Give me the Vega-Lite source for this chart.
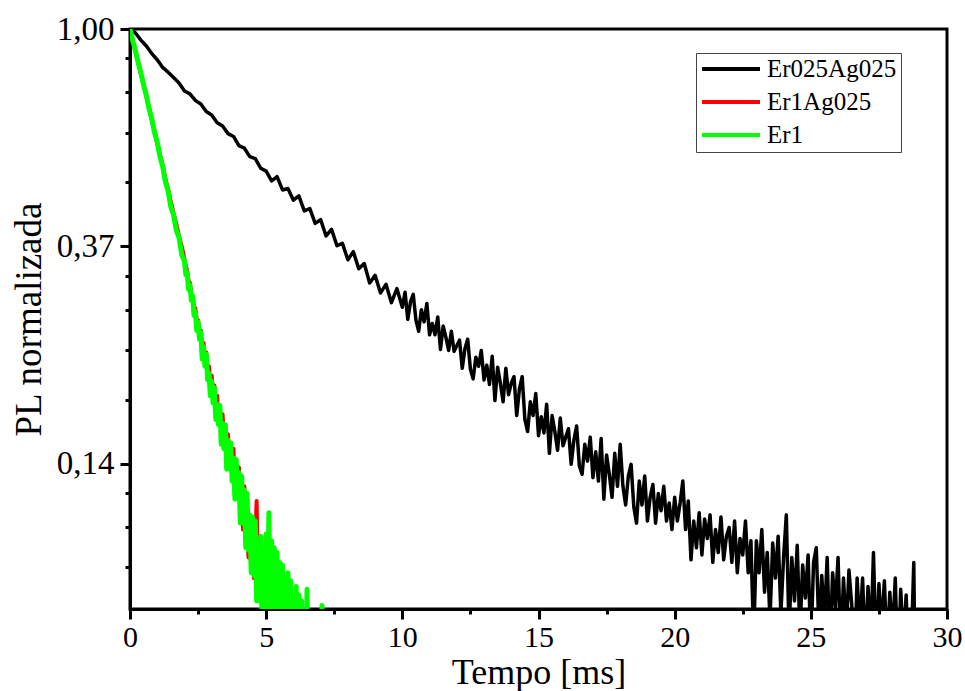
{
  "$schema": "https://vega.github.io/schema/vega-lite/v6.json",
  "width": 817,
  "height": 580,
  "autosize": {"type": "none"},
  "padding": {"left": 130, "top": 29, "right": 18, "bottom": 82},
  "background": "white",
  "config": {
    "view": {"stroke": "black", "strokeWidth": 3},
    "font": "Liberation Serif",
    "axis": {"labelFont": "Liberation Serif", "titleFont": "Liberation Serif"},
    "legend": {"labelFont": "Liberation Serif"}
  },
  "data": {"values": [
{"s":"Er025Ag025","t":0,"pl":1.000},{"s":"Er025Ag025","t":0.2,"pl":0.982},{"s":"Er025Ag025","t":0.4,"pl":0.950},{"s":"Er025Ag025","t":0.6,"pl":0.925},{"s":"Er025Ag025","t":0.8,"pl":0.893},{"s":"Er025Ag025","t":1.0,"pl":0.868},{"s":"Er025Ag025","t":1.2,"pl":0.838},{"s":"Er025Ag025","t":1.4,"pl":0.820},{"s":"Er025Ag025","t":1.6,"pl":0.800},{"s":"Er025Ag025","t":1.8,"pl":0.780},
{"s":"Er025Ag025","t":2.0,"pl":0.752},{"s":"Er025Ag025","t":2.2,"pl":0.742},{"s":"Er025Ag025","t":2.4,"pl":0.720},{"s":"Er025Ag025","t":2.6,"pl":0.708},{"s":"Er025Ag025","t":2.8,"pl":0.684},{"s":"Er025Ag025","t":3.0,"pl":0.673},{"s":"Er025Ag025","t":3.2,"pl":0.650},{"s":"Er025Ag025","t":3.4,"pl":0.640},{"s":"Er025Ag025","t":3.6,"pl":0.618},{"s":"Er025Ag025","t":3.8,"pl":0.610},
{"s":"Er025Ag025","t":4.0,"pl":0.585},{"s":"Er025Ag025","t":4.2,"pl":0.578},{"s":"Er025Ag025","t":4.4,"pl":0.556},{"s":"Er025Ag025","t":4.6,"pl":0.551},{"s":"Er025Ag025","t":4.8,"pl":0.527},{"s":"Er025Ag025","t":5.0,"pl":0.520},{"s":"Er025Ag025","t":5.2,"pl":0.497},{"s":"Er025Ag025","t":5.4,"pl":0.507},{"s":"Er025Ag025","t":5.6,"pl":0.477},{"s":"Er025Ag025","t":5.8,"pl":0.480},
{"s":"Er025Ag025","t":6.0,"pl":0.455},{"s":"Er025Ag025","t":6.2,"pl":0.464},{"s":"Er025Ag025","t":6.4,"pl":0.433},{"s":"Er025Ag025","t":6.6,"pl":0.438},{"s":"Er025Ag025","t":6.8,"pl":0.409},{"s":"Er025Ag025","t":7.0,"pl":0.416},{"s":"Er025Ag025","t":7.2,"pl":0.386},{"s":"Er025Ag025","t":7.4,"pl":0.398},{"s":"Er025Ag025","t":7.6,"pl":0.369},{"s":"Er025Ag025","t":7.8,"pl":0.373},
{"s":"Er025Ag025","t":8.0,"pl":0.346},{"s":"Er025Ag025","t":8.2,"pl":0.359},{"s":"Er025Ag025","t":8.4,"pl":0.332},{"s":"Er025Ag025","t":8.6,"pl":0.340},{"s":"Er025Ag025","t":8.8,"pl":0.311},{"s":"Er025Ag025","t":9.0,"pl":0.322},{"s":"Er025Ag025","t":9.2,"pl":0.297},{"s":"Er025Ag025","t":9.4,"pl":0.309},{"s":"Er025Ag025","t":9.6,"pl":0.284},{"s":"Er025Ag025","t":9.8,"pl":0.303},
{"s":"Er025Ag025","t":10.0,"pl":0.278},{"s":"Er025Ag025","t":10.1,"pl":0.298},{"s":"Er025Ag025","t":10.2,"pl":0.263},{"s":"Er025Ag025","t":10.3,"pl":0.285},{"s":"Er025Ag025","t":10.4,"pl":0.295},{"s":"Er025Ag025","t":10.5,"pl":0.262},{"s":"Er025Ag025","t":10.6,"pl":0.249},{"s":"Er025Ag025","t":10.7,"pl":0.275},{"s":"Er025Ag025","t":10.8,"pl":0.260},{"s":"Er025Ag025","t":10.9,"pl":0.283},
{"s":"Er025Ag025","t":11.0,"pl":0.245},{"s":"Er025Ag025","t":11.1,"pl":0.258},{"s":"Er025Ag025","t":11.2,"pl":0.245},{"s":"Er025Ag025","t":11.3,"pl":0.266},{"s":"Er025Ag025","t":11.4,"pl":0.229},{"s":"Er025Ag025","t":11.5,"pl":0.255},{"s":"Er025Ag025","t":11.6,"pl":0.242},{"s":"Er025Ag025","t":11.7,"pl":0.228},{"s":"Er025Ag025","t":11.8,"pl":0.249},{"s":"Er025Ag025","t":11.9,"pl":0.227},
{"s":"Er025Ag025","t":12.0,"pl":0.233},{"s":"Er025Ag025","t":12.1,"pl":0.239},{"s":"Er025Ag025","t":12.2,"pl":0.210},{"s":"Er025Ag025","t":12.3,"pl":0.230},{"s":"Er025Ag025","t":12.4,"pl":0.240},{"s":"Er025Ag025","t":12.5,"pl":0.209},{"s":"Er025Ag025","t":12.6,"pl":0.200},{"s":"Er025Ag025","t":12.7,"pl":0.221},{"s":"Er025Ag025","t":12.8,"pl":0.212},{"s":"Er025Ag025","t":12.9,"pl":0.228},
{"s":"Er025Ag025","t":13.0,"pl":0.199},{"s":"Er025Ag025","t":13.1,"pl":0.213},{"s":"Er025Ag025","t":13.2,"pl":0.195},{"s":"Er025Ag025","t":13.3,"pl":0.222},{"s":"Er025Ag025","t":13.4,"pl":0.181},{"s":"Er025Ag025","t":13.5,"pl":0.211},{"s":"Er025Ag025","t":13.6,"pl":0.196},{"s":"Er025Ag025","t":13.7,"pl":0.180},{"s":"Er025Ag025","t":13.8,"pl":0.210},{"s":"Er025Ag025","t":13.9,"pl":0.186},
{"s":"Er025Ag025","t":14.0,"pl":0.196},{"s":"Er025Ag025","t":14.1,"pl":0.202},{"s":"Er025Ag025","t":14.2,"pl":0.169},{"s":"Er025Ag025","t":14.3,"pl":0.191},{"s":"Er025Ag025","t":14.4,"pl":0.202},{"s":"Er025Ag025","t":14.5,"pl":0.166},{"s":"Er025Ag025","t":14.6,"pl":0.157},{"s":"Er025Ag025","t":14.7,"pl":0.180},{"s":"Er025Ag025","t":14.8,"pl":0.169},{"s":"Er025Ag025","t":14.9,"pl":0.187},
{"s":"Er025Ag025","t":15.0,"pl":0.154},{"s":"Er025Ag025","t":15.1,"pl":0.168},{"s":"Er025Ag025","t":15.2,"pl":0.156},{"s":"Er025Ag025","t":15.3,"pl":0.178},{"s":"Er025Ag025","t":15.4,"pl":0.142},{"s":"Er025Ag025","t":15.5,"pl":0.169},{"s":"Er025Ag025","t":15.6,"pl":0.157},{"s":"Er025Ag025","t":15.7,"pl":0.144},{"s":"Er025Ag025","t":15.8,"pl":0.167},{"s":"Er025Ag025","t":15.9,"pl":0.147},
{"s":"Er025Ag025","t":16.0,"pl":0.153},{"s":"Er025Ag025","t":16.1,"pl":0.159},{"s":"Er025Ag025","t":16.2,"pl":0.135},{"s":"Er025Ag025","t":16.3,"pl":0.151},{"s":"Er025Ag025","t":16.4,"pl":0.161},{"s":"Er025Ag025","t":16.5,"pl":0.134},{"s":"Er025Ag025","t":16.6,"pl":0.129},{"s":"Er025Ag025","t":16.7,"pl":0.148},{"s":"Er025Ag025","t":16.8,"pl":0.137},{"s":"Er025Ag025","t":16.9,"pl":0.153},
{"s":"Er025Ag025","t":17.0,"pl":0.127},{"s":"Er025Ag025","t":17.1,"pl":0.143},{"s":"Er025Ag025","t":17.2,"pl":0.125},{"s":"Er025Ag025","t":17.3,"pl":0.152},{"s":"Er025Ag025","t":17.4,"pl":0.115},{"s":"Er025Ag025","t":17.5,"pl":0.141},{"s":"Er025Ag025","t":17.6,"pl":0.129},{"s":"Er025Ag025","t":17.7,"pl":0.116},{"s":"Er025Ag025","t":17.8,"pl":0.142},{"s":"Er025Ag025","t":17.9,"pl":0.122},
{"s":"Er025Ag025","t":18.0,"pl":0.148},{"s":"Er025Ag025","t":18.1,"pl":0.122},{"s":"Er025Ag025","t":18.2,"pl":0.112},{"s":"Er025Ag025","t":18.3,"pl":0.128},{"s":"Er025Ag025","t":18.4,"pl":0.135},{"s":"Er025Ag025","t":18.5,"pl":0.111},{"s":"Er025Ag025","t":18.6,"pl":0.103},{"s":"Er025Ag025","t":18.7,"pl":0.125},{"s":"Er025Ag025","t":18.8,"pl":0.112},{"s":"Er025Ag025","t":18.9,"pl":0.128},
{"s":"Er025Ag025","t":19.0,"pl":0.104},{"s":"Er025Ag025","t":19.1,"pl":0.116},{"s":"Er025Ag025","t":19.2,"pl":0.123},{"s":"Er025Ag025","t":19.3,"pl":0.103},{"s":"Er025Ag025","t":19.4,"pl":0.118},{"s":"Er025Ag025","t":19.5,"pl":0.109},{"s":"Er025Ag025","t":19.6,"pl":0.122},{"s":"Er025Ag025","t":19.7,"pl":0.104},{"s":"Er025Ag025","t":19.8,"pl":0.113},{"s":"Er025Ag025","t":19.9,"pl":0.100},
{"s":"Er025Ag025","t":20.0,"pl":0.116},{"s":"Er025Ag025","t":20.1,"pl":0.104},{"s":"Er025Ag025","t":20.2,"pl":0.113},{"s":"Er025Ag025","t":20.3,"pl":0.125},{"s":"Er025Ag025","t":20.4,"pl":0.100},{"s":"Er025Ag025","t":20.5,"pl":0.114},{"s":"Er025Ag025","t":20.6,"pl":0.087},{"s":"Er025Ag025","t":20.7,"pl":0.104},{"s":"Er025Ag025","t":20.8,"pl":0.092},{"s":"Er025Ag025","t":20.9,"pl":0.108},
{"s":"Er025Ag025","t":21.0,"pl":0.089},{"s":"Er025Ag025","t":21.1,"pl":0.105},{"s":"Er025Ag025","t":21.2,"pl":0.096},{"s":"Er025Ag025","t":21.3,"pl":0.107},{"s":"Er025Ag025","t":21.4,"pl":0.086},{"s":"Er025Ag025","t":21.5,"pl":0.100},{"s":"Er025Ag025","t":21.6,"pl":0.090},{"s":"Er025Ag025","t":21.7,"pl":0.106},{"s":"Er025Ag025","t":21.8,"pl":0.087},{"s":"Er025Ag025","t":21.9,"pl":0.097},
{"s":"Er025Ag025","t":22.0,"pl":0.101},{"s":"Er025Ag025","t":22.1,"pl":0.086},{"s":"Er025Ag025","t":22.2,"pl":0.104},{"s":"Er025Ag025","t":22.3,"pl":0.082},{"s":"Er025Ag025","t":22.4,"pl":0.096},{"s":"Er025Ag025","t":22.5,"pl":0.089},{"s":"Er025Ag025","t":22.6,"pl":0.104},{"s":"Er025Ag025","t":22.7,"pl":0.082},{"s":"Er025Ag025","t":22.8,"pl":0.095},{"s":"Er025Ag025","t":22.9,"pl":0.060},
{"s":"Er025Ag025","t":23.0,"pl":0.095},{"s":"Er025Ag025","t":23.1,"pl":0.082},{"s":"Er025Ag025","t":23.2,"pl":0.100},{"s":"Er025Ag025","t":23.3,"pl":0.075},{"s":"Er025Ag025","t":23.4,"pl":0.090},{"s":"Er025Ag025","t":23.5,"pl":0.066},{"s":"Er025Ag025","t":23.6,"pl":0.094},{"s":"Er025Ag025","t":23.7,"pl":0.080},{"s":"Er025Ag025","t":23.8,"pl":0.097},{"s":"Er025Ag025","t":23.9,"pl":0.068},
{"s":"Er025Ag025","t":24.0,"pl":0.088},{"s":"Er025Ag025","t":24.1,"pl":0.107},{"s":"Er025Ag025","t":24.2,"pl":0.062},{"s":"Er025Ag025","t":24.3,"pl":0.088},{"s":"Er025Ag025","t":24.4,"pl":0.072},{"s":"Er025Ag025","t":24.5,"pl":0.093},{"s":"Er025Ag025","t":24.6,"pl":0.062},{"s":"Er025Ag025","t":24.7,"pl":0.085},{"s":"Er025Ag025","t":24.8,"pl":0.073},{"s":"Er025Ag025","t":24.9,"pl":0.089},
{"s":"Er025Ag025","t":25.0,"pl":0.058},{"s":"Er025Ag025","t":25.1,"pl":0.086},{"s":"Er025Ag025","t":25.2,"pl":0.092},{"s":"Er025Ag025","t":25.3,"pl":0.062},{"s":"Er025Ag025","t":25.4,"pl":0.081},{"s":"Er025Ag025","t":25.5,"pl":0.066},{"s":"Er025Ag025","t":25.6,"pl":0.088},{"s":"Er025Ag025","t":25.7,"pl":0.057},{"s":"Er025Ag025","t":25.8,"pl":0.082},{"s":"Er025Ag025","t":25.9,"pl":0.070},
{"s":"Er025Ag025","t":26.0,"pl":0.088},{"s":"Er025Ag025","t":26.1,"pl":0.057},{"s":"Er025Ag025","t":26.2,"pl":0.080},{"s":"Er025Ag025","t":26.3,"pl":0.062},{"s":"Er025Ag025","t":26.4,"pl":0.083},{"s":"Er025Ag025","t":26.5,"pl":0.071},{"s":"Er025Ag025","t":26.6,"pl":0.054},{"s":"Er025Ag025","t":26.7,"pl":0.080},{"s":"Er025Ag025","t":26.8,"pl":0.063},{"s":"Er025Ag025","t":26.9,"pl":0.080},
{"s":"Er025Ag025","t":27.0,"pl":0.057},{"s":"Er025Ag025","t":27.1,"pl":0.077},{"s":"Er025Ag025","t":27.2,"pl":0.060},{"s":"Er025Ag025","t":27.3,"pl":0.090},{"s":"Er025Ag025","t":27.4,"pl":0.056},{"s":"Er025Ag025","t":27.5,"pl":0.078},{"s":"Er025Ag025","t":27.6,"pl":0.063},{"s":"Er025Ag025","t":27.7,"pl":0.079},{"s":"Er025Ag025","t":27.8,"pl":0.057},{"s":"Er025Ag025","t":27.9,"pl":0.075},
{"s":"Er025Ag025","t":28.0,"pl":0.061},{"s":"Er025Ag025","t":28.1,"pl":0.080},{"s":"Er025Ag025","t":28.2,"pl":0.052},{"s":"Er025Ag025","t":28.3,"pl":0.076},{"s":"Er025Ag025","t":28.4,"pl":0.059},{"s":"Er025Ag025","t":28.5,"pl":0.074},{"s":"Er025Ag025","t":28.6,"pl":0.052},{"s":"Er025Ag025","t":28.7,"pl":0.061},{"s":"Er025Ag025","t":28.78,"pl":0.086},{"s":"Er025Ag025","t":28.83,"pl":0.050},

{"s":"Er1Ag025","t":0,"pl":1.000},{"s":"Er1Ag025","t":0.1,"pl":0.946},{"s":"Er1Ag025","t":0.2,"pl":0.900},{"s":"Er1Ag025","t":0.3,"pl":0.860},{"s":"Er1Ag025","t":0.4,"pl":0.812},{"s":"Er1Ag025","t":0.5,"pl":0.776},{"s":"Er1Ag025","t":0.6,"pl":0.733},{"s":"Er1Ag025","t":0.7,"pl":0.698},{"s":"Er1Ag025","t":0.8,"pl":0.657},{"s":"Er1Ag025","t":0.9,"pl":0.627},
{"s":"Er1Ag025","t":1.0,"pl":0.590},{"s":"Er1Ag025","t":1.1,"pl":0.561},{"s":"Er1Ag025","t":1.2,"pl":0.534},{"s":"Er1Ag025","t":1.3,"pl":0.502},{"s":"Er1Ag025","t":1.4,"pl":0.478},{"s":"Er1Ag025","t":1.5,"pl":0.452},{"s":"Er1Ag025","t":1.6,"pl":0.428},{"s":"Er1Ag025","t":1.7,"pl":0.408},{"s":"Er1Ag025","t":1.8,"pl":0.385},{"s":"Er1Ag025","t":1.9,"pl":0.368},
{"s":"Er1Ag025","t":2.0,"pl":0.347},{"s":"Er1Ag025","t":2.05,"pl":0.336},{"s":"Er1Ag025","t":2.1,"pl":0.328},{"s":"Er1Ag025","t":2.15,"pl":0.314},{"s":"Er1Ag025","t":2.2,"pl":0.311},{"s":"Er1Ag025","t":2.25,"pl":0.296},{"s":"Er1Ag025","t":2.3,"pl":0.292},{"s":"Er1Ag025","t":2.35,"pl":0.280},{"s":"Er1Ag025","t":2.4,"pl":0.276},{"s":"Er1Ag025","t":2.45,"pl":0.262},
{"s":"Er1Ag025","t":2.5,"pl":0.262},{"s":"Er1Ag025","t":2.55,"pl":0.248},{"s":"Er1Ag025","t":2.6,"pl":0.250},{"s":"Er1Ag025","t":2.65,"pl":0.232},{"s":"Er1Ag025","t":2.7,"pl":0.236},{"s":"Er1Ag025","t":2.75,"pl":0.222},{"s":"Er1Ag025","t":2.8,"pl":0.226},{"s":"Er1Ag025","t":2.85,"pl":0.207},{"s":"Er1Ag025","t":2.9,"pl":0.212},{"s":"Er1Ag025","t":2.95,"pl":0.195},
{"s":"Er1Ag025","t":3.0,"pl":0.203},{"s":"Er1Ag025","t":3.05,"pl":0.186},{"s":"Er1Ag025","t":3.1,"pl":0.194},{"s":"Er1Ag025","t":3.15,"pl":0.175},{"s":"Er1Ag025","t":3.2,"pl":0.185},{"s":"Er1Ag025","t":3.25,"pl":0.166},{"s":"Er1Ag025","t":3.3,"pl":0.176},{"s":"Er1Ag025","t":3.35,"pl":0.157},{"s":"Er1Ag025","t":3.4,"pl":0.170},{"s":"Er1Ag025","t":3.45,"pl":0.150},
{"s":"Er1Ag025","t":3.5,"pl":0.160},{"s":"Er1Ag025","t":3.55,"pl":0.141},{"s":"Er1Ag025","t":3.6,"pl":0.155},{"s":"Er1Ag025","t":3.65,"pl":0.136},{"s":"Er1Ag025","t":3.7,"pl":0.148},{"s":"Er1Ag025","t":3.75,"pl":0.128},{"s":"Er1Ag025","t":3.8,"pl":0.145},{"s":"Er1Ag025","t":3.85,"pl":0.120},{"s":"Er1Ag025","t":3.9,"pl":0.136},{"s":"Er1Ag025","t":3.95,"pl":0.117},
{"s":"Er1Ag025","t":4.0,"pl":0.133},{"s":"Er1Ag025","t":4.05,"pl":0.106},{"s":"Er1Ag025","t":4.1,"pl":0.125},{"s":"Er1Ag025","t":4.15,"pl":0.100},{"s":"Er1Ag025","t":4.2,"pl":0.122},{"s":"Er1Ag025","t":4.25,"pl":0.095},{"s":"Er1Ag025","t":4.3,"pl":0.112},{"s":"Er1Ag025","t":4.35,"pl":0.088},{"s":"Er1Ag025","t":4.4,"pl":0.104},{"s":"Er1Ag025","t":4.45,"pl":0.083},
{"s":"Er1Ag025","t":4.5,"pl":0.100},{"s":"Er1Ag025","t":4.55,"pl":0.080},{"s":"Er1Ag025","t":4.6,"pl":0.096},{"s":"Er1Ag025","t":4.65,"pl":0.114},{"s":"Er1Ag025","t":4.7,"pl":0.079},{"s":"Er1Ag025","t":4.75,"pl":0.090},{"s":"Er1Ag025","t":4.8,"pl":0.072},{"s":"Er1Ag025","t":4.85,"pl":0.086},{"s":"Er1Ag025","t":4.9,"pl":0.060},{"s":"Er1Ag025","t":4.95,"pl":0.070},
{"s":"Er1Ag025","t":5.0,"pl":0.050},{"s":"Er1Ag025","t":5.05,"pl":0.040},{"s":"Er1Ag025","t":5.3,"pl":0.035},

{"s":"Er1","t":0,"pl":1.000},{"s":"Er1","t":0.1,"pl":0.948},{"s":"Er1","t":0.2,"pl":0.905},{"s":"Er1","t":0.3,"pl":0.855},{"s":"Er1","t":0.4,"pl":0.818},{"s":"Er1","t":0.5,"pl":0.772},{"s":"Er1","t":0.6,"pl":0.737},{"s":"Er1","t":0.7,"pl":0.692},{"s":"Er1","t":0.8,"pl":0.662},{"s":"Er1","t":0.9,"pl":0.621},
{"s":"Er1","t":1.0,"pl":0.595},{"s":"Er1","t":1.1,"pl":0.556},{"s":"Er1","t":1.2,"pl":0.531},{"s":"Er1","t":1.3,"pl":0.495},{"s":"Er1","t":1.4,"pl":0.474},{"s":"Er1","t":1.5,"pl":0.441},{"s":"Er1","t":1.6,"pl":0.425},{"s":"Er1","t":1.7,"pl":0.396},{"s":"Er1","t":1.8,"pl":0.383},{"s":"Er1","t":1.9,"pl":0.354},
{"s":"Er1","t":2.0,"pl":0.344},{"s":"Er1","t":2.05,"pl":0.323},{"s":"Er1","t":2.1,"pl":0.326},{"s":"Er1","t":2.15,"pl":0.302},{"s":"Er1","t":2.2,"pl":0.308},{"s":"Er1","t":2.25,"pl":0.287},{"s":"Er1","t":2.3,"pl":0.293},{"s":"Er1","t":2.35,"pl":0.268},{"s":"Er1","t":2.4,"pl":0.273},{"s":"Er1","t":2.45,"pl":0.250},
{"s":"Er1","t":2.5,"pl":0.260},{"s":"Er1","t":2.55,"pl":0.240},{"s":"Er1","t":2.6,"pl":0.248},{"s":"Er1","t":2.65,"pl":0.219},{"s":"Er1","t":2.7,"pl":0.232},{"s":"Er1","t":2.75,"pl":0.212},{"s":"Er1","t":2.8,"pl":0.224},{"s":"Er1","t":2.85,"pl":0.199},{"s":"Er1","t":2.9,"pl":0.205},{"s":"Er1","t":2.95,"pl":0.185},
{"s":"Er1","t":3.0,"pl":0.198},{"s":"Er1","t":3.05,"pl":0.179},{"s":"Er1","t":3.1,"pl":0.192},{"s":"Er1","t":3.15,"pl":0.166},{"s":"Er1","t":3.2,"pl":0.178},{"s":"Er1","t":3.25,"pl":0.162},{"s":"Er1","t":3.3,"pl":0.177},{"s":"Er1","t":3.35,"pl":0.148},{"s":"Er1","t":3.4,"pl":0.163},{"s":"Er1","t":3.45,"pl":0.145},
{"s":"Er1","t":3.5,"pl":0.162},{"s":"Er1","t":3.55,"pl":0.132},{"s":"Er1","t":3.6,"pl":0.151},{"s":"Er1","t":3.65,"pl":0.132},{"s":"Er1","t":3.7,"pl":0.149},{"s":"Er1","t":3.75,"pl":0.125},{"s":"Er1","t":3.8,"pl":0.139},{"s":"Er1","t":3.85,"pl":0.115},{"s":"Er1","t":3.9,"pl":0.138},{"s":"Er1","t":3.95,"pl":0.116},
{"s":"Er1","t":4.0,"pl":0.130},{"s":"Er1","t":4.05,"pl":0.103},{"s":"Er1","t":4.1,"pl":0.128},{"s":"Er1","t":4.15,"pl":0.103},{"s":"Er1","t":4.2,"pl":0.120},{"s":"Er1","t":4.25,"pl":0.092},{"s":"Er1","t":4.3,"pl":0.118},{"s":"Er1","t":4.35,"pl":0.091},{"s":"Er1","t":4.4,"pl":0.107},{"s":"Er1","t":4.45,"pl":0.082},
{"s":"Er1","t":4.5,"pl":0.106},{"s":"Er1","t":4.55,"pl":0.081},{"s":"Er1","t":4.6,"pl":0.104},{"s":"Er1","t":4.65,"pl":0.072},{"s":"Er1","t":4.7,"pl":0.094},{"s":"Er1","t":4.75,"pl":0.072},{"s":"Er1","t":4.8,"pl":0.097},{"s":"Er1","t":4.85,"pl":0.064},{"s":"Er1","t":4.9,"pl":0.089},{"s":"Er1","t":4.95,"pl":0.068},
{"s":"Er1","t":5.0,"pl":0.098},{"s":"Er1","t":5.05,"pl":0.062},{"s":"Er1","t":5.1,"pl":0.108},{"s":"Er1","t":5.15,"pl":0.063},{"s":"Er1","t":5.2,"pl":0.095},{"s":"Er1","t":5.25,"pl":0.054},{"s":"Er1","t":5.3,"pl":0.092},{"s":"Er1","t":5.35,"pl":0.059},{"s":"Er1","t":5.4,"pl":0.090},{"s":"Er1","t":5.45,"pl":0.048},
{"s":"Er1","t":5.5,"pl":0.086},{"s":"Er1","t":5.55,"pl":0.057},{"s":"Er1","t":5.6,"pl":0.085},{"s":"Er1","t":5.65,"pl":0.050},{"s":"Er1","t":5.7,"pl":0.080},{"s":"Er1","t":5.75,"pl":0.054},{"s":"Er1","t":5.8,"pl":0.082},{"s":"Er1","t":5.85,"pl":0.047},{"s":"Er1","t":5.9,"pl":0.079},{"s":"Er1","t":5.95,"pl":0.049},
{"s":"Er1","t":6.0,"pl":0.071},{"s":"Er1","t":6.05,"pl":0.045},{"s":"Er1","t":6.1,"pl":0.077},{"s":"Er1","t":6.15,"pl":0.049},{"s":"Er1","t":6.2,"pl":0.074},{"s":"Er1","t":6.25,"pl":0.042},{"s":"Er1","t":6.3,"pl":0.072},{"s":"Er1","t":6.35,"pl":0.041},{"s":"Er1","t":6.4,"pl":0.060},{"s":"Er1","t":6.45,"pl":0.045},
{"s":"Er1","t":6.5,"pl":0.076},{"s":"Er1","t":6.55,"pl":0.035},{"s":"Er1","t":6.6,"pl":0.048},{"s":"Er1","t":6.7,"pl":0.040},{"s":"Er1","t":6.8,"pl":0.050},{"s":"Er1","t":6.9,"pl":0.038},{"s":"Er1","t":7.05,"pl":0.0705},{"s":"Er1","t":7.1,"pl":0.040}
  ]},
  "encoding": {
    "x": {
      "field": "t", "type": "quantitative",
      "scale": {"domain": [0, 30], "nice": false, "zero": false},
      "axis": {
        "title": "Tempo [ms]",
        "values": [0, 2.5, 5, 7.5, 10, 12.5, 15, 17.5, 20, 22.5, 25, 27.5, 30],
        "labelExpr": "datum.value % 5 === 0 ? format(datum.value, 'd') : ''",
        "grid": false,
        "domainColor": "black", "domainWidth": 3,
        "tickColor": "black", "tickWidth": 3,
        "tickSize": {"condition": {"test": "datum.value % 5 === 0", "value": 10}, "value": 5},
        "labelFont": "Liberation Serif", "labelFontSize": 30, "labelColor": "black", "labelPadding": 3,
        "labelOverlap": false, "labelFlush": false,
        "titleFont": "Liberation Serif", "titleFontSize": 36, "titleFontWeight": "normal", "titleColor": "black",
        "titleBaseline": "alphabetic", "titleY": 74
      }
    },
    "y": {
      "field": "pl", "type": "quantitative",
      "scale": {"type": "log", "base": 2.718281828, "domain": [0.0694, 1], "nice": false, "zero": false},
      "axis": {
        "title": "PL normalizada",
        "values": [1, 0.873576, 0.747152, 0.620728, 0.494303, 0.367879, 0.32137, 0.274861, 0.228353, 0.181844, 0.135335, 0.118225, 0.101116, 0.084006],
        "labelExpr": "datum.value > 0.99 ? '1,00' : (abs(datum.value - 0.367879) < 0.0001 ? '0,37' : (abs(datum.value - 0.135335) < 0.0001 ? '0,14' : ''))",
        "grid": false,
        "domainColor": "black", "domainWidth": 3,
        "tickColor": "black", "tickWidth": 3,
        "tickSize": {"condition": {"test": "datum.value > 0.99 || abs(datum.value - 0.367879) < 0.0001 || abs(datum.value - 0.135335) < 0.0001", "value": 10}, "value": 5},
        "labelFont": "Liberation Serif", "labelFontSize": 33, "labelColor": "black", "labelPadding": 6,
        "labelOverlap": false, "labelFlush": false,
        "titleFont": "Liberation Serif", "titleFontSize": 37, "titleFontWeight": "normal", "titleColor": "black", "titlePadding": 8
      }
    },
    "color": {
      "field": "s", "type": "nominal",
      "scale": {"domain": ["Er025Ag025", "Er1Ag025", "Er1"], "range": ["#000000", "#ff0000", "#00ff00"]},
      "legend": {
        "title": null,
        "orient": "none", "legendX": 566, "legendY": 24,
        "symbolType": "stroke", "symbolSize": 3364, "symbolStrokeWidth": 4,
        "clipHeight": 24, "rowPadding": 8, "padding": 4,
        "labelFont": "Liberation Serif", "labelFontSize": 25, "labelColor": "black", "labelOffset": 5, "labelLimit": 300,
        "strokeColor": "#444444", "fillColor": "white"
      }
    }
  },
  "layer": [
    {"transform": [{"filter": "datum.s === 'Er025Ag025'"}], "mark": {"type": "line", "clip": true, "strokeWidth": 3.5, "strokeJoin": "round"}},
    {"transform": [{"filter": "datum.s === 'Er1Ag025'"}], "mark": {"type": "line", "clip": true, "strokeWidth": 4, "strokeJoin": "round"}},
    {"transform": [{"filter": "datum.s === 'Er1'"}], "mark": {"type": "line", "clip": true, "strokeWidth": 5, "strokeJoin": "round"}}
  ]
}
